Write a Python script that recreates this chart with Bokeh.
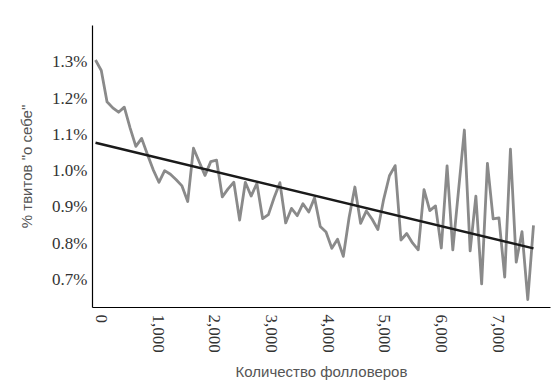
from bokeh.plotting import figure
from bokeh.models import Range1d, FixedTicker, NumeralTickFormatter, PrintfTickFormatter
from bokeh.embed import file_html
from bokeh.resources import INLINE

# follower count (bin position)
followers = [-106, -4, 97, 199, 301, 402, 504, 606, 708, 809, 911, 1013, 1114, 1216,
             1318, 1420, 1521, 1623, 1725, 1826, 1928, 2030, 2131, 2233, 2335, 2437,
             2538, 2640, 2742, 2843, 2945, 3047, 3148, 3250, 3352, 3454, 3555, 3657,
             3759, 3860, 3962, 4064, 4165, 4267, 4369, 4471, 4572, 4674, 4776, 4877,
             4979, 5081, 5182, 5284, 5386, 5488, 5589, 5691, 5793, 5894, 5996, 6098,
             6199, 6301, 6403, 6505, 6606, 6708, 6810, 6911, 7013, 7115, 7216, 7318,
             7420, 7522, 7623]

# share of "about me" tweets, percent
share = [1.305, 1.276, 1.190, 1.173, 1.161, 1.175, 1.118, 1.067, 1.089, 1.045,
         1.003, 0.968, 1.000, 0.990, 0.975, 0.958, 0.915, 1.062, 1.024, 0.987,
         1.025, 1.029, 0.928, 0.950, 0.968, 0.864, 0.968, 0.930, 0.965, 0.868,
         0.879, 0.926, 0.967, 0.856, 0.896, 0.876, 0.909, 0.886, 0.925, 0.846,
         0.831, 0.786, 0.811, 0.764, 0.871, 0.955, 0.855, 0.889, 0.866, 0.838,
         0.921, 0.986, 1.014, 0.809, 0.827, 0.801, 0.782, 0.948, 0.890, 0.903,
         0.787, 1.013, 0.782, 0.947, 1.112, 0.779, 0.930, 0.688, 1.020, 0.867,
         0.870, 0.707, 1.059, 0.748, 0.832, 0.645, 0.849]

# linear trend end points
trend_x = [-106, 7623]
trend_y = [1.077, 0.786]

x_ticks = [0, 1000, 2000, 3000, 4000, 5000, 6000, 7000]
y_ticks = [0.7, 0.8, 0.9, 1.0, 1.1, 1.2, 1.3]

p = figure(width=558, height=382, output_backend="svg", toolbar_location=None,
           x_range=Range1d(-159, 7923), y_range=Range1d(0.623, 1.400),
           min_border_left=92, min_border_top=25, min_border_bottom=72, min_border_right=8)

p.line(followers, share, line_color="#8a8a8a", line_width=2.8, line_join="round")
p.line(trend_x, trend_y, line_color="#1a1a1a", line_width=2.5)

p.outline_line_color = None
p.xgrid.visible = False
p.ygrid.visible = False
p.background_fill_color = "white"

for ax in (p.xaxis[0], p.yaxis[0]):
    ax.axis_line_color = "black"
    ax.axis_line_width = 1.2
    ax.major_tick_line_color = None
    ax.minor_tick_line_color = None
    ax.major_tick_out = 0
    ax.major_tick_in = 0
    ax.major_label_text_font = "'Liberation Serif', serif"
    ax.major_label_text_font_size = "17px"
    ax.major_label_text_color = "#333333"
    ax.axis_label_text_font = "'Liberation Sans', sans-serif"
    ax.axis_label_text_font_size = "15px"
    ax.axis_label_text_font_style = "normal"
    ax.axis_label_text_color = "#555555"

p.xaxis.ticker = FixedTicker(ticks=x_ticks)
p.xaxis.formatter = NumeralTickFormatter(format="0,0")
p.xaxis.major_label_orientation = "vertical"
p.xaxis.major_label_standoff = 7
p.xaxis.axis_label = "Количество фолловеров"
p.xaxis.axis_label_standoff = 7

p.yaxis.ticker = FixedTicker(ticks=y_ticks)
p.yaxis.formatter = PrintfTickFormatter(format="%.1f%%")
p.yaxis.major_label_standoff = 5
p.yaxis.axis_label = '% твитов "о себе"'
p.yaxis.axis_label_standoff = 14

open("out.html", "w").write(file_html(p, INLINE))
